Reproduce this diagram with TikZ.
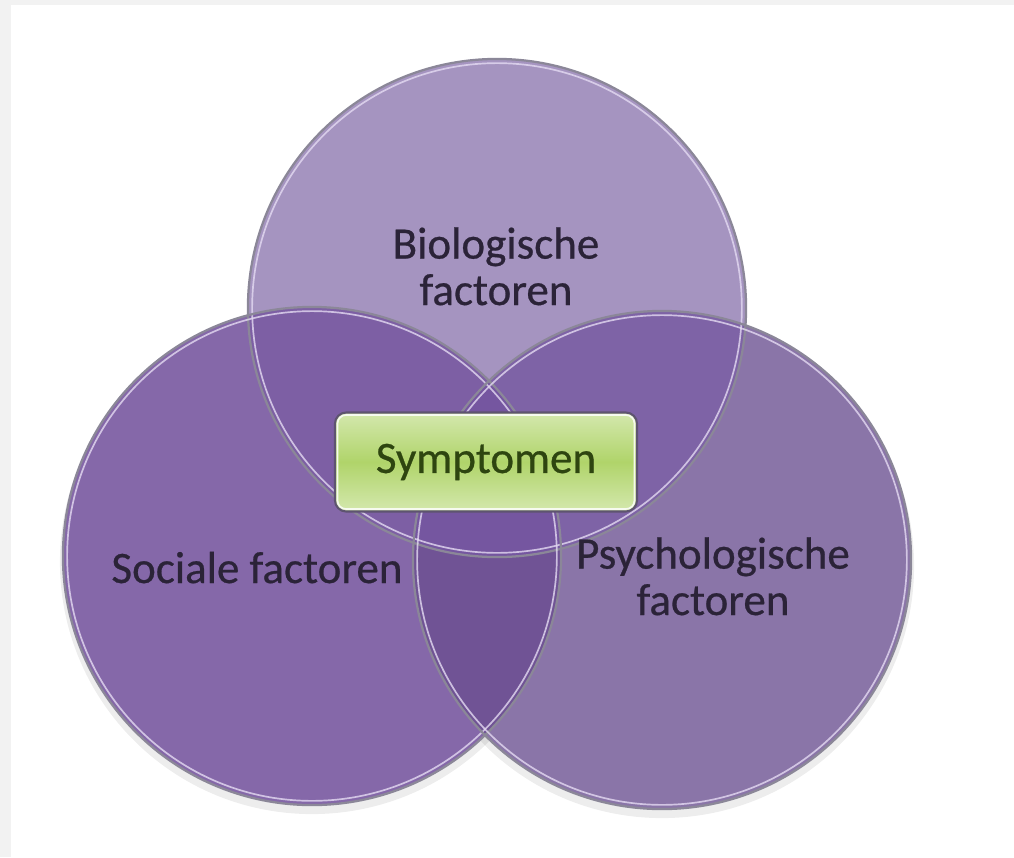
\documentclass[tikz,border=0pt]{standalone}
\usepackage{fontspec}
\setmainfont{Carlito}
\newfontfamily\lblfont[FakeBold=0.6]{Carlito}
\usetikzlibrary{positioning}
\definecolor{ink}{HTML}{2B2338}
\definecolor{frame}{HTML}{F2F2F2}
\definecolor{biofill}{HTML}{A594C0}
\definecolor{socfill}{HTML}{8568A9}
\definecolor{psyfill}{HTML}{8A75A8}
\definecolor{biosoc}{HTML}{7D5FA4}
\definecolor{biopsy}{HTML}{7E63A6}
\definecolor{socpsy}{HTML}{705395}
\definecolor{allthree}{HTML}{7556A0}
\definecolor{rim}{HTML}{8B8798}
\definecolor{glow}{HTML}{E4DAF2}
\definecolor{symtop}{HTML}{D4E8AE}
\definecolor{symmid}{HTML}{B0D46A}
\definecolor{symrim}{HTML}{5E5470}
\definecolor{symink}{HTML}{2E4510}

\begin{document}
\begin{tikzpicture}[x=0.025cm,y=-0.025cm,
  ring/.style={circle, minimum size=12.45cm, inner sep=0pt},
  lbl/.style={font=\lblfont\fontsize{32}{33}\selectfont, text=ink, align=center, anchor=base},
  disc/.style={radius=6.225cm}]
  \fill[frame] (0,0) rectangle (1014,857);
  \fill[white] (11,5) rectangle (1014,857);

  \node[ring] (bio) at (497,308) {};
  \node[ring] (soc) at (312,556) {};
  \node[ring] (psy) at (662,560) {};

  % soft shadow under the lower discs
  \foreach \c in {soc,psy}
    \fill[black,opacity=0.07] ([yshift=-0.15cm]\c.center) circle[radius=6.3cm];

  % single discs
  \fill[biofill] (bio.center) circle[disc];
  \fill[socfill] (soc.center) circle[disc];
  \fill[psyfill] (psy.center) circle[disc];

  % overlaps
  \begin{scope}
    \clip (bio.center) circle[disc];
    \fill[biosoc] (soc.center) circle[disc];
    \fill[biopsy] (psy.center) circle[disc];
  \end{scope}
  \begin{scope}
    \clip (soc.center) circle[disc];
    \fill[socpsy] (psy.center) circle[disc];
    \clip (bio.center) circle[disc];
    \fill[allthree] (psy.center) circle[disc];
  \end{scope}

  % rims
  \foreach \c in {bio,soc,psy} {
    \draw[rim, line width=1.6pt] (\c.center) circle[disc];
    \draw[glow, line width=1.2pt, opacity=0.8] (\c.center) circle[radius=6.12cm];
  }

  \node[lbl] (biotext) at (496,305) {Biologische\\factoren};
  \node[lbl] (soctext) at (257,583) {Sociale factoren};
  \node[lbl] (psytext) at (713,615) {Psychologische\\factoren};

  \node[draw=symrim, line width=1.5pt, rounded corners=8pt, minimum width=7.55cm, minimum height=2.475cm,
    top color=symtop, bottom color=symtop, middle color=symmid, inner sep=0pt,
    font=\lblfont\fontsize{32}{33}\selectfont, text=symink] (sym) at (486,462) {Symptomen};
  \draw[white!80!symtop, line width=1.2pt, rounded corners=6pt]
    ([xshift=0.09cm,yshift=-0.09cm]sym.north west) rectangle ([xshift=-0.09cm,yshift=0.09cm]sym.south east);
\end{tikzpicture}
\end{document}
